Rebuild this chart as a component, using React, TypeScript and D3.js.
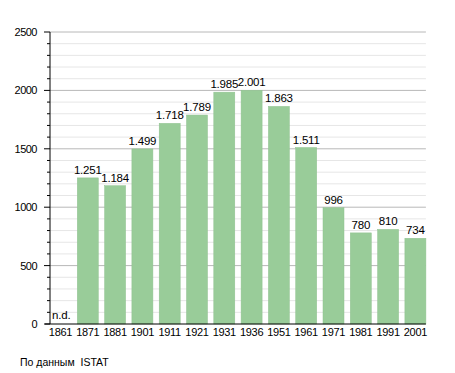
import React, { useEffect, useRef } from 'react';
import * as d3 from 'd3';

const years = ['1861', '1871', '1881', '1901', '1911', '1921', '1931', '1936', '1951', '1961', '1971', '1981', '1991', '2001'];
const population: (number | null)[] = [null, 1251, 1184, 1499, 1718, 1789, 1985, 2001, 1863, 1511, 996, 780, 810, 734];
const majorTicks = [0, 500, 1000, 1500, 2000, 2500];

const fmt = (v: number) => d3.format(',')(v).replace(/,/g, '.');

export default function App() {
  const ref = useRef<SVGSVGElement>(null);

  useEffect(() => {
    if (!ref.current) return;
    const svg = d3.select(ref.current);
    svg.selectAll('*').remove();

    const left = 50;
    const top = 32;
    const bottom = 324;
    const slot = 27.3;
    const barW = 21;
    const right = left + slot * (years.length - 1) + barW;

    const x = d3.scaleBand<string>()
      .domain(years)
      .range([left, left + slot * years.length])
      .padding(0);
    const y = d3.scaleLinear().domain([0, 2500]).range([bottom, top]);

    const font = 'Liberation Sans, Arial, sans-serif';
    const minor = d3.range(100, 2500, 100).filter(v => v % 500 !== 0);

    // minor grid
    svg.append('g')
      .selectAll('line')
      .data(minor)
      .enter()
      .append('line')
      .attr('x1', left).attr('x2', right)
      .attr('y1', d => y(d)).attr('y2', d => y(d))
      .attr('stroke', '#e6e6e6');

    // major grid
    svg.append('g')
      .selectAll('line')
      .data(majorTicks.filter(v => v > 0))
      .enter()
      .append('line')
      .attr('x1', left).attr('x2', right)
      .attr('y1', d => y(d)).attr('y2', d => y(d))
      .attr('stroke', '#b8b8b8');

    const rows = years.map((yr, i) => ({ yr, v: population[i] }));

    // bars
    svg.append('g')
      .selectAll('rect')
      .data(rows.filter(d => d.v != null))
      .enter()
      .append('rect')
      .attr('x', d => x(d.yr)!)
      .attr('y', d => y(d.v as number))
      .attr('width', barW)
      .attr('height', d => bottom - y(d.v as number))
      .attr('fill', '#99cc99')
      .attr('stroke', '#8fc28f')
      .attr('stroke-width', 0.5);

    // value labels
    svg.append('g')
      .selectAll('text')
      .data(rows)
      .enter()
      .append('text')
      .attr('x', d => d.v == null ? x(d.yr)! + 2 : x(d.yr)! + barW / 2)
      .attr('y', d => d.v == null ? bottom - 5 : y(d.v) - 4)
      .attr('text-anchor', d => d.v == null ? 'start' : 'middle')
      .attr('font-family', font)
      .attr('font-size', 11.5)
      .attr('letter-spacing', '-0.2px')
      .attr('fill', '#000')
      .text(d => d.v == null ? 'n.d.' : fmt(d.v));

    // axes
    svg.append('line')
      .attr('x1', left).attr('x2', left)
      .attr('y1', top).attr('y2', bottom)
      .attr('stroke', '#000');
    svg.append('line')
      .attr('x1', left - 5).attr('x2', right)
      .attr('y1', bottom).attr('y2', bottom)
      .attr('stroke', '#000');

    // minor ticks
    svg.append('g')
      .selectAll('line')
      .data(minor)
      .enter()
      .append('line')
      .attr('x1', left - 3).attr('x2', left)
      .attr('y1', d => y(d)).attr('y2', d => y(d))
      .attr('stroke', '#000');

    // major ticks + labels
    const yt = svg.append('g');
    yt.selectAll('line')
      .data(majorTicks)
      .enter()
      .append('line')
      .attr('x1', left - 6).attr('x2', left)
      .attr('y1', d => y(d)).attr('y2', d => y(d))
      .attr('stroke', '#000');
    yt.selectAll('text')
      .data(majorTicks)
      .enter()
      .append('text')
      .attr('x', 37)
      .attr('y', d => y(d) + 4)
      .attr('text-anchor', 'end')
      .attr('font-family', font)
      .attr('font-size', 11)
      .attr('letter-spacing', '-0.5px')
      .text(d => String(d));

    // x labels
    svg.append('g')
      .selectAll('text')
      .data(years)
      .enter()
      .append('text')
      .attr('x', d => x(d)! + barW / 2)
      .attr('y', bottom + 12)
      .attr('text-anchor', 'middle')
      .attr('font-family', font)
      .attr('font-size', 11)
      .attr('letter-spacing', '-0.3px')
      .text(d => d);

    svg.append('text')
      .attr('x', 20)
      .attr('y', 366)
      .attr('font-family', font)
      .attr('font-size', 10.5)
      .style('white-space', 'pre')
      .text('По данным  ISTAT');
  }, []);

  return (
    <svg
      ref={ref}
      width={455}
      height={373}
      style={{ position: 'absolute', left: 0, top: 0, background: '#fff' }}
    />
  );
}
